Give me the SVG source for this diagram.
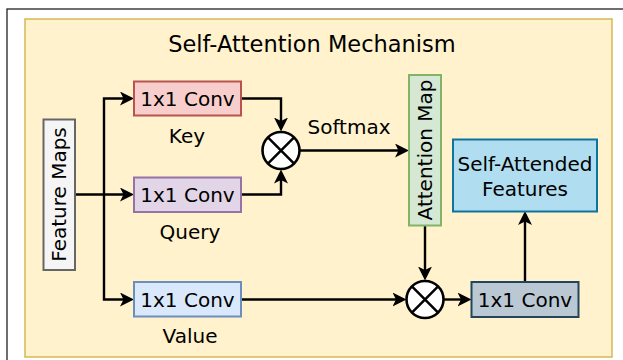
<svg xmlns="http://www.w3.org/2000/svg" width="623" height="360" viewBox="0 0 623 360">
<style>
text{font-family:"DejaVu Sans","Verdana",sans-serif;fill:#000;}
.lbl{font-size:20px;text-anchor:middle;}
.title{font-size:22.5px;text-anchor:middle;}
.box{stroke-width:2;}
.ln{fill:none;stroke:#000;stroke-width:2.4;}
.mul{fill:#fff;stroke:#000;stroke-width:2.6;}
</style>
<defs>
<marker id="arr" viewBox="0 0 14 14" refX="9.5" refY="7" markerWidth="14" markerHeight="14" orient="auto" markerUnits="userSpaceOnUse">
<path d="M0,0 L14,7 L0,14 L3.5,7 z" fill="#000"/>
</marker>
</defs>
<rect x="7" y="9" width="700" height="400" fill="#fff" stroke="#222" stroke-width="1.3"/>
<g id="container">
<rect x="25" y="19" width="587" height="338" fill="#fff2cc" stroke="#d6b656" stroke-width="1.5"/>
<text class="title" x="312" y="52">Self-Attention Mechanism</text>
</g>
<g id="connectors">
<path class="ln" d="M75,194.5 H129.5" marker-end="url(#arr)"/>
<path class="ln" d="M104,194.5 V98.5 H129.5" marker-end="url(#arr)"/>
<path class="ln" d="M104,194.5 V299.5 H129.5" marker-end="url(#arr)"/>
<path class="ln" d="M241,98.5 H281 V127" marker-end="url(#arr)"/>
<path class="ln" d="M241,194.5 H281 V174" marker-end="url(#arr)"/>
<path class="ln" d="M300,150.5 H404.5" marker-end="url(#arr)"/>
<text class="lbl" x="349" y="133.5">Softmax</text>
<path class="ln" d="M425,226 V276" marker-end="url(#arr)"/>
<path class="ln" d="M241,299.5 H402" marker-end="url(#arr)"/>
<path class="ln" d="M444,299.5 H467" marker-end="url(#arr)"/>
<path class="ln" d="M525,282 V215.5" marker-end="url(#arr)"/>
</g>
<g id="feature-maps">
<rect class="box" x="43.5" y="119.5" width="31.5" height="150.5" fill="#f5f5f5" stroke="#666666"/>
<text class="lbl" x="59" y="194.5" transform="rotate(-90 59 194.5) translate(0 7)" fill="#333">Feature Maps</text>
</g>
<g id="key-conv">
<rect class="box" x="134" y="81.5" width="107" height="34" fill="#f8cecc" stroke="#b85450"/>
<text class="lbl" x="187.5" y="105.5">1x1 Conv</text>
<text class="lbl" x="187" y="143">Key</text>
</g>
<g id="query-conv">
<rect class="box" x="134" y="177.5" width="107" height="34.5" fill="#e1d5e7" stroke="#9673a6"/>
<text class="lbl" x="187.5" y="201.5">1x1 Conv</text>
<text class="lbl" x="190" y="239">Query</text>
</g>
<g id="value-conv">
<rect class="box" x="134" y="282" width="107" height="34.5" fill="#dae8fc" stroke="#6c8ebf"/>
<text class="lbl" x="187.5" y="306.5">1x1 Conv</text>
<text class="lbl" x="190" y="343">Value</text>
</g>
<g id="multiply-1">
<circle class="mul" cx="281" cy="150.5" r="18.5"/>
<path d="M267.9,137.4 L294.1,163.6 M294.1,137.4 L267.9,163.6" stroke="#000" stroke-width="2.5"/>
</g>
<g id="attention-map">
<rect class="box" x="409" y="75" width="32" height="150.5" fill="#d5e8d4" stroke="#82b366"/>
<text class="lbl" x="425" y="150" transform="rotate(-90 425 150) translate(0 7)">Attention Map</text>
</g>
<g id="multiply-2">
<circle class="mul" cx="425" cy="299.5" r="18.5"/>
<path d="M411.9,286.4 L438.1,312.6 M438.1,286.4 L411.9,312.6" stroke="#000" stroke-width="2.5"/>
</g>
<g id="output-conv">
<rect class="box" x="471.5" y="282" width="107" height="35" fill="#bac8d3" stroke="#23445d"/>
<text class="lbl" x="525" y="306.5">1x1 Conv</text>
</g>
<g id="self-attended">
<rect class="box" x="453" y="139.5" width="144" height="72" fill="#b1ddf0" stroke="#10739e"/>
<text class="lbl" x="525" y="170.5">Self-Attended</text>
<text class="lbl" x="525" y="195.5">Features</text>
</g>
</svg>
